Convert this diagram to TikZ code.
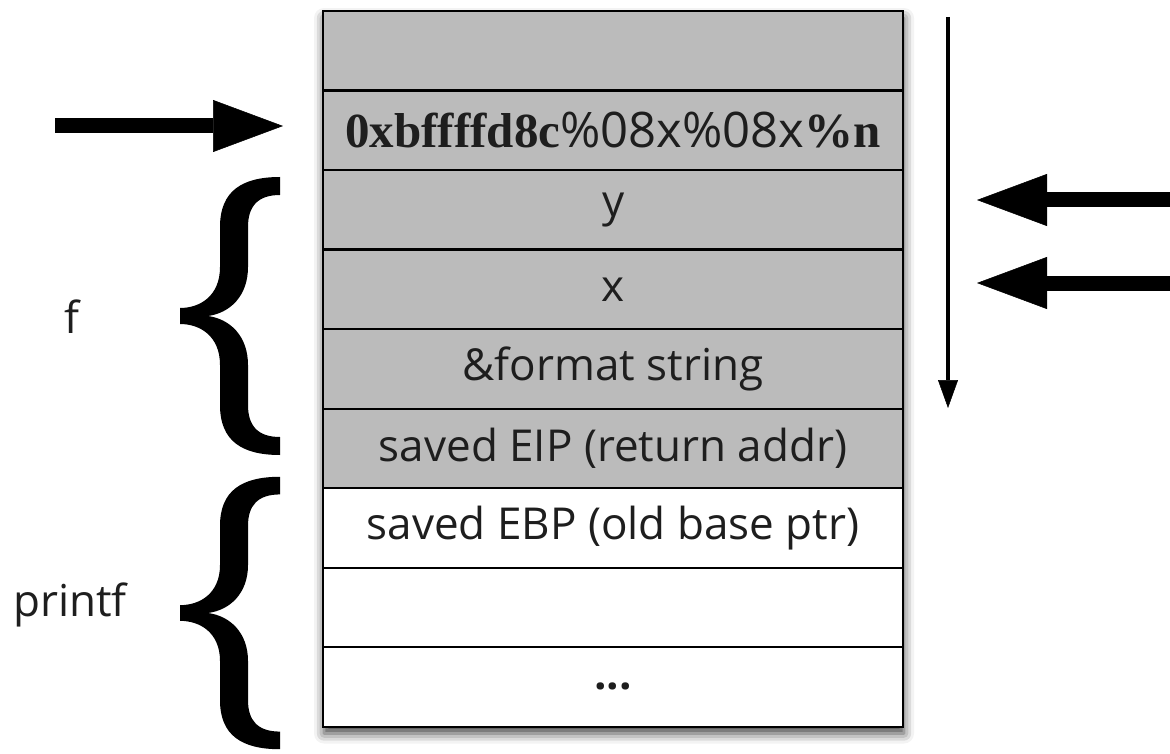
\documentclass[tikz,border=0pt]{standalone}
\usepackage{fontspec}
\setmainfont{Open Sans}
\newfontfamily\hexfont{Liberation Serif}
\usetikzlibrary{arrows.meta,shadows.blur,positioning}

\definecolor{framegray}{RGB}{187,187,187}
\definecolor{inkdark}{RGB}{30,30,30}

\tikzset{
  cell/.style={draw=black, line width=2.2pt, minimum width=580pt, minimum height=79.5pt,
               inner sep=0pt, anchor=north west, font=\fontsize{44}{50}\selectfont, text=inkdark},
  usedcell/.style={cell, fill=framegray},
  freecell/.style={cell, fill=white},
  fatarrow/.style={line width=15pt, draw=black,
    -{Triangle[length=70pt,width=52pt,line width=0.5pt,fill=black,color=black]}},
  thinarrow/.style={line width=3.5pt, draw=black,
    -{Triangle[length=28pt,width=20pt,line width=0.5pt,fill=black,color=black]}},
  sidelabel/.style={font=\fontsize{44}{50}\selectfont, text=inkdark},
  bracefill/.style={fill=black, draw=none}
}

% a curly brace whose tip sits at the origin, opening to the right
\newcommand{\bigbrace}{%
  (100,139) .. controls (62,139) and (40,125) .. (40,89) -- (40,49)
  .. controls (40,20) and (20,8) .. (0,8) -- (0,-8)
  .. controls (20,-8) and (40,-20) .. (40,-49) -- (40,-89)
  .. controls (40,-125) and (62,-139) .. (100,-139) -- (100,-121)
  .. controls (78,-121) and (68,-110) .. (68,-89) -- (68,-49)
  .. controls (68,-20) and (50,-3) .. (28,0)
  .. controls (50,3) and (68,20) .. (68,49) -- (68,89)
  .. controls (68,110) and (78,121) .. (100,121) -- cycle}

\begin{document}
\begin{tikzpicture}[x=1pt, y=-1pt]
  \useasboundingbox (0,0) rectangle (1170,754);

  % stack frame outline with its soft shadow
  \fill[white, blur shadow={shadow xshift=2pt, shadow yshift=-8pt, shadow blur radius=10pt, shadow opacity=75}]
    (322,10) rectangle (902,725.5);

  % stack cells, top to bottom
  \node[usedcell] (r1) at (322,10) {};
  \node[usedcell, font=\fontsize{49}{54}\selectfont] (r2) at (322,89.5)
    {{\hexfont\bfseries 0xbffffd8c}\%08x\%08x{\hexfont\bfseries \%n}};
  \node[usedcell] (r3) at (322,169) {y};
  \node[usedcell] (r4) at (322,248.5) {x};
  \node[usedcell] (r5) at (322,328) {\&format string};
  \node[usedcell] (r6) at (322,407.5) {saved EIP (return addr)};
  \node[freecell] (r7) at (322,487) {saved EBP (old base ptr)};
  \node[freecell] (r8) at (322,566.5) {};
  \node[freecell] (r9) at (322,646) {\textbf{...}};

  % pointer into the format string
  \coordinate (ptrtail) at (55,126);
  \coordinate (ptrhead) at ([xshift=-39pt]r2.west |- ptrtail);
  \draw[fatarrow] (ptrtail) -- (ptrhead);

  % direction of stack growth
  \coordinate (growtop) at (948,17);
  \coordinate (growbot) at (948,408);
  \draw[thinarrow] (growtop) -- (growbot);

  % pointers to the arguments y and x
  \coordinate (ytail) at (1172,200);
  \coordinate (yhead) at (977,200);
  \coordinate (xtail) at (1172,283);
  \coordinate (xhead) at (977,283);
  \draw[fatarrow] (ytail) -- (yhead);
  \draw[fatarrow] (xtail) -- (xhead);

  % frame braces and their names
  \begin{scope}[shift={(180,316)}]
    \fill[bracefill] \bigbrace;
  \end{scope}
  \begin{scope}[shift={(180,613)}, yscale=0.98]
    \fill[bracefill] \bigbrace;
  \end{scope}
  \node[sidelabel] (flabel) at (72,317) {f};
  \node[sidelabel] (plabel) at (70,605) {printf};
\end{tikzpicture}
\end{document}
